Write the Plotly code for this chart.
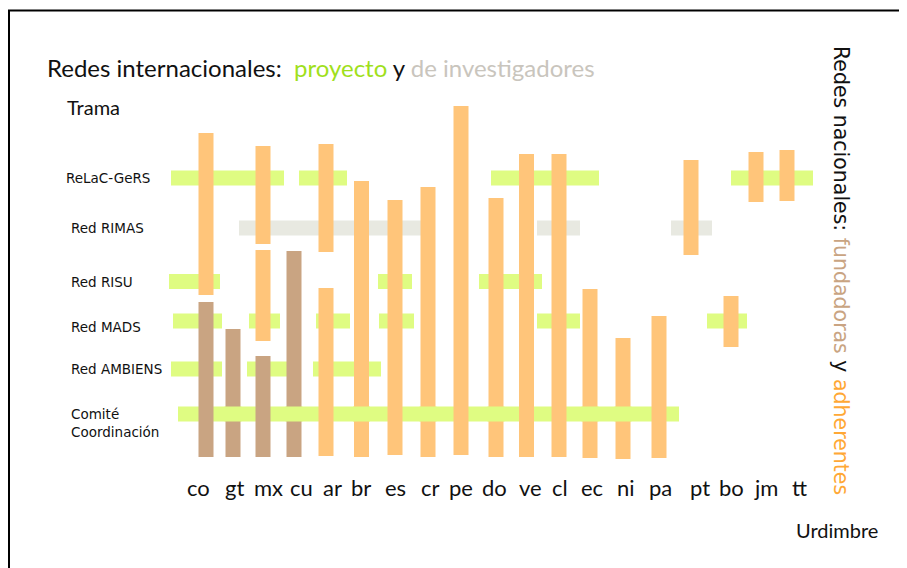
import plotly.graph_objects as go

# ---------------- data ----------------
# warp threads (countries): horizontal position of each thread
countries = ["co", "gt", "mx", "cu", "ar", "br", "es", "cr", "pe", "do",
             "ve", "cl", "ec", "ni", "pa", "pt", "bo", "jm", "tt"]
col_pos = [206, 233, 263, 294, 326, 361.5, 395, 428, 461, 496,
           526.5, 559, 590, 623, 659, 691, 731, 756, 787]
# where each country name is written along the bottom
tick_pos = [198, 234, 268, 301, 332, 361, 395, 430, 461, 494,
            530, 560, 592, 626, 660, 700, 731, 766, 799]

# vertical segments: (country, bottom, top, kind)  kind: F = fundadora, A = adherente
seg_country = ["co", "co", "gt", "mx", "mx", "mx", "cu", "ar", "ar", "br", "es", "cr",
               "pe", "do", "ve", "cl", "ec", "ni", "pa", "pt", "bo", "jm", "tt"]
seg_bottom = [162, 0, 0, 213, 116, 0, 0, 205, 1, 0, 2, 0,
              2, 0, 0, 0, -1, -2, -1, 202, 110, 255, 256]
seg_top = [324, 155, 128, 311, 207, 101, 206, 313, 169, 276, 257, 270,
           351, 259, 303, 303, 168, 119, 141, 297, 161, 305, 307]
seg_kind = ["A", "F", "F", "A", "A", "F", "F", "A", "A", "A", "A", "A",
            "A", "A", "A", "A", "A", "A", "A", "A", "A", "A", "A"]

# weft threads (networks)
networks = ["ReLaC-GeRS", "Red RIMAS", "Red RISU", "Red MADS", "Red AMBIENS",
            "Comité<br>Coordinación"]
net_level = [279, 229, 175.5, 136, 88, 43]
net_type = ["proyecto", "investigadores", "proyecto", "proyecto", "proyecto", "proyecto"]
# horizontal segments per network: list of (start, end)
net_segments = [
    [(171, 284), (299, 347), (491, 599), (731, 813)],
    [(239, 421), (537, 580), (671, 712)],
    [(169, 220), (378, 412), (479, 542)],
    [(173, 222), (249, 280), (316, 350), (379, 414), (537, 580), (707, 747)],
    [(171, 222), (247, 288), (313, 381)],
    [(178, 679)],
]
# crossings in the Comité row where the weft passes over the warp
comite_over = ["gt", "cu", "br", "cr", "do", "ec", "ni"]

# ---------------- styles ----------------
C_ADH = "#FFC57A"
C_FUN = "#C9A482"
C_PROJ = "#DFFC82"
C_INV = "#E8E9E1"
THICK = 15

pos = dict(zip(countries, col_pos))
fig = go.Figure()

# weft (horizontal) bars
for name, lvl, typ, segs in zip(networks, net_level, net_type, net_segments):
    fig.add_trace(go.Bar(
        orientation="h",
        y=[lvl] * len(segs),
        x=[e - s for s, e in segs],
        base=[s for s, e in segs],
        width=THICK,
        marker=dict(color=C_PROJ if typ == "proyecto" else C_INV, line=dict(width=0)),
        hoverinfo="skip", showlegend=False,
    ))

# warp (vertical) bars
for kind, color in (("A", C_ADH), ("F", C_FUN)):
    idx = [i for i, k in enumerate(seg_kind) if k == kind]
    fig.add_trace(go.Bar(
        x=[pos[seg_country[i]] for i in idx],
        y=[seg_top[i] - seg_bottom[i] for i in idx],
        base=[seg_bottom[i] for i in idx],
        width=THICK,
        marker=dict(color=color, line=dict(width=0)),
        hoverinfo="skip", showlegend=False,
    ))

# weft passing over warp in the Comité row
fig.add_trace(go.Bar(
    orientation="h",
    y=[net_level[-1]] * len(comite_over),
    x=[THICK + 2] * len(comite_over),
    base=[pos[c] - (THICK + 2) / 2 for c in comite_over],
    width=THICK,
    marker=dict(color=C_PROJ, line=dict(width=0)),
    hoverinfo="skip", showlegend=False,
))

ann = []
# country labels
for c, tp in zip(countries, tick_pos):
    ann.append(dict(x=tp, y=-30, xref="x", yref="y", text=c, showarrow=False,
                    xanchor="center", yanchor="middle",
                    font=dict(family="Lato", size=22, color="#111")))
# network labels
for name, lvl in zip(networks, net_level):
    first = name == networks[0]
    last = name == networks[-1]
    ann.append(dict(x=64 if first else 69, y=lvl - (9 if last else 0) - (6 if name == "Red MADS" else 0),
                    xref="x", yref="y", text=name, showarrow=False,
                    xanchor="left", yanchor="middle", align="left",
                    font=dict(family="DejaVu Sans", size=13.5, color="#111")))

ann.append(dict(x=45, y=390, xref="x", yref="y", xanchor="left", yanchor="middle",
                showarrow=False,
                text=('Redes internacionales:&nbsp; <span style="color:#9FE01C">proyecto</span>'
                      ' y <span style="color:#C9C5BD">de investigadores</span>'),
                font=dict(family="Lato", size=24, color="#111")))
ann.append(dict(x=65, y=350, xref="x", yref="y", xanchor="left", yanchor="middle",
                showarrow=False, text="Trama",
                font=dict(family="Lato", size=20, color="#111")))
ann.append(dict(x=880, y=-73, xref="x", yref="y", xanchor="right", yanchor="middle",
                showarrow=False, text="Urdimbre",
                font=dict(family="Lato", size=20, color="#111")))
ann.append(dict(x=841, y=187, xref="x", yref="y", xanchor="center", yanchor="middle",
                showarrow=False, textangle=90,
                text=('Redes nacionales: <span style="color:#C9A482">fundadoras</span>'
                      ' y <span style="color:#FFA835">adherentes</span>'),
                font=dict(family="DejaVu Sans", size=20.5, color="#111")))

fig.update_layout(
    width=907, height=568,
    margin=dict(l=0, r=0, t=0, b=0),
    paper_bgcolor="white", plot_bgcolor="white",
    barmode="overlay",
    xaxis=dict(range=[8, 915], visible=False, fixedrange=True),
    yaxis=dict(range=[-119, 449], visible=False, fixedrange=True),
    annotations=ann,
    shapes=[dict(type="rect", xref="paper", yref="paper",
                 x0=1 / 907, x1=1.05, y0=-0.05, y1=1 - 2.5 / 568,
                 line=dict(color="black", width=2), fillcolor="rgba(0,0,0,0)")],
    showlegend=False,
)

fig.write_html("out.html")
